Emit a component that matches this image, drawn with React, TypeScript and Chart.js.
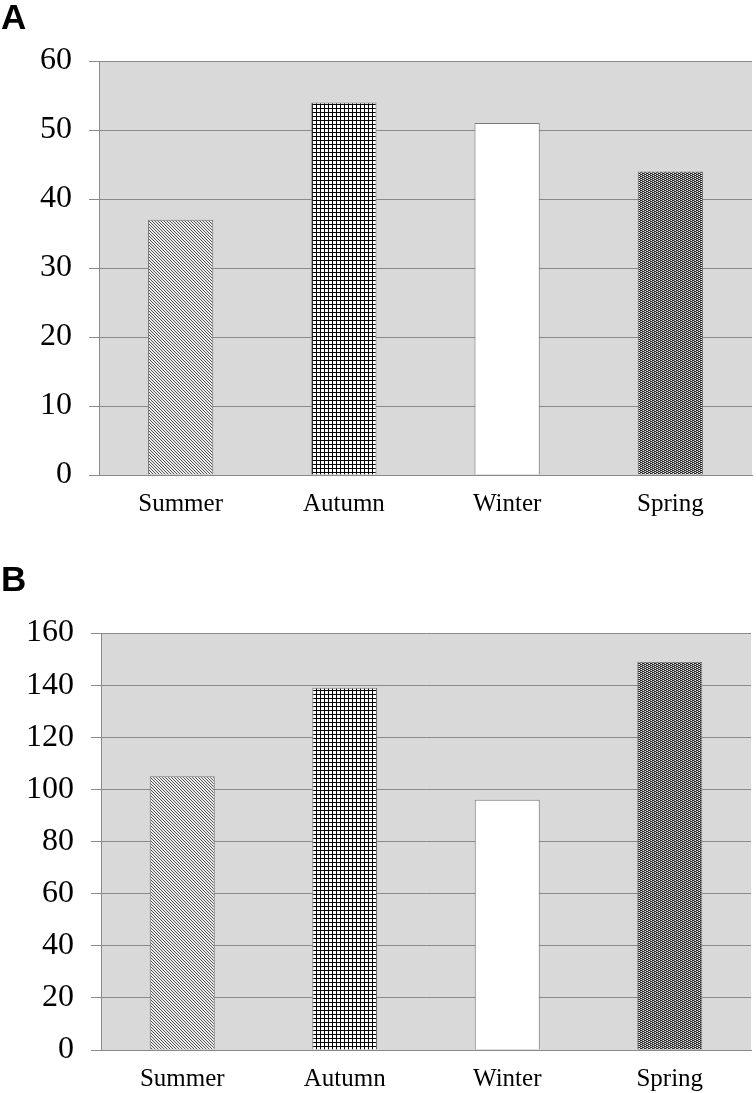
import React, { useEffect, useRef } from "react";
import { Chart, registerables } from "chart.js";

Chart.register(...registerables);

const categories = ["Summer", "Autumn", "Winter", "Spring"];
const valuesA = [37, 54, 51, 44];
const valuesB = [105, 139, 96, 149];
const ticksA = { min: 0, max: 60, step: 10 };
const ticksB = { min: 0, max: 160, step: 20 };

function makeTile(size: number, draw: (ctx: CanvasRenderingContext2D) => void) {
  const c = document.createElement("canvas");
  c.width = size;
  c.height = size;
  const ctx = c.getContext("2d")!;
  draw(ctx);
  return document.createElement("canvas").getContext("2d")!.createPattern(c, "repeat")!;
}

function patterns() {
  const diag = makeTile(3, (ctx) => {
    ctx.fillStyle = "#ececec";
    ctx.fillRect(0, 0, 3, 3);
    ctx.fillStyle = "#555555";
    for (let i = 0; i < 3; i++) ctx.fillRect(i, i, 1, 1);
  });
  const grid = makeTile(4, (ctx) => {
    ctx.fillStyle = "#ffffff";
    ctx.fillRect(0, 0, 4, 4);
    ctx.fillStyle = "#000000";
    ctx.fillRect(0, 0, 4, 1);
    ctx.fillRect(0, 0, 1, 4);
  });
  const check = makeTile(4, (ctx) => {
    ctx.fillStyle = "#f0f0f0";
    ctx.fillRect(0, 0, 4, 4);
    ctx.fillStyle = "#262626";
    ctx.fillRect(0, 0, 2, 1);
    ctx.fillRect(2, 1, 2, 1);
    ctx.fillRect(0, 2, 2, 1);
    ctx.fillRect(2, 3, 2, 1);
    ctx.fillStyle = "#8a8a8a";
    ctx.fillRect(2, 0, 1, 1);
    ctx.fillRect(0, 1, 1, 1);
    ctx.fillRect(2, 2, 1, 1);
    ctx.fillRect(0, 3, 1, 1);
  });
  return [diag, grid, "#ffffff", check];
}

const bgPlugin = {
  id: "plotBg",
  beforeDraw(chart: any) {
    const { ctx, chartArea } = chart;
    ctx.save();
    ctx.fillStyle = "#d9d9d9";
    ctx.fillRect(chartArea.left, chartArea.top, chartArea.right - chartArea.left, chartArea.bottom - chartArea.top);
    ctx.restore();
  },
};

function BarPanel(props: {
  values: number[];
  tick: { min: number; max: number; step: number };
  padTop: number;
  padRight: number;
  padBottom: number;
  yWidth: number;
  xHeight: number;
  height: number;
}) {
  const ref = useRef<HTMLCanvasElement>(null);
  useEffect(() => {
    const fills = patterns();
    const chart = new Chart(ref.current!, {
      type: "bar",
      data: {
        labels: categories,
        datasets: [
          {
            data: props.values,
            backgroundColor: fills as any,
            borderColor: "#7a7a7a",
            borderWidth: 1,
            barPercentage: 0.4,
            categoryPercentage: 1,
          },
        ],
      },
      options: {
        animation: false,
        responsive: false,
        maintainAspectRatio: false,
        layout: { padding: { top: props.padTop, right: props.padRight, bottom: props.padBottom, left: 0 } },
        plugins: { legend: { display: false }, tooltip: { enabled: false } },
        scales: {
          x: {
            grid: { display: false, drawTicks: false },
            border: { display: true, color: "#888888" },
            ticks: {
              color: "#000",
              padding: 14,
              font: { family: "'Liberation Serif', 'Times New Roman', serif", size: 25 },
            },
            afterFit(scale: any) {
              scale.height = props.xHeight;
            },
          },
          y: {
            min: props.tick.min,
            max: props.tick.max,
            grid: { color: "#8a8a8a", tickLength: 10, lineWidth: 1 },
            border: { display: true, color: "#8a8a8a" },
            ticks: {
              stepSize: props.tick.step,
              color: "#000",
              padding: 17,
              font: { family: "'Liberation Serif', 'Times New Roman', serif", size: 32 },
            },
            afterFit(scale: any) {
              scale.width = props.yWidth;
            },
          },
        },
      },
      plugins: [bgPlugin],
    });
    return () => chart.destroy();
  }, []);
  return <canvas ref={ref} width={756} height={props.height} style={{ display: "block" }} />;
}

export default function App() {
  useEffect(() => {
    document.body.style.margin = "0";
  }, []);
  const labelStyle: React.CSSProperties = {
    position: "absolute",
    left: 1,
    fontFamily: "'Liberation Sans', Arial, sans-serif",
    fontWeight: "bold",
    fontSize: 35,
    lineHeight: "35px",
    color: "#000",
  };
  return (
    <div style={{ position: "absolute", left: 0, top: 0, width: 756, height: 1093, background: "#fff" }}>
      <div style={{ position: "absolute", left: 0, top: 0 }}>
        <BarPanel values={valuesA} tick={ticksA} padTop={61} padRight={4} padBottom={11} yWidth={99} xHeight={60} height={546} />
      </div>
      <div style={{ position: "absolute", left: 0, top: 546 }}>
        <BarPanel values={valuesB} tick={ticksB} padTop={87} padRight={5} padBottom={0} yWidth={101} xHeight={43} height={547} />
      </div>
      <div style={{ ...labelStyle, top: -1 }}>A</div>
      <div style={{ ...labelStyle, top: 561 }}>B</div>
    </div>
  );
}
